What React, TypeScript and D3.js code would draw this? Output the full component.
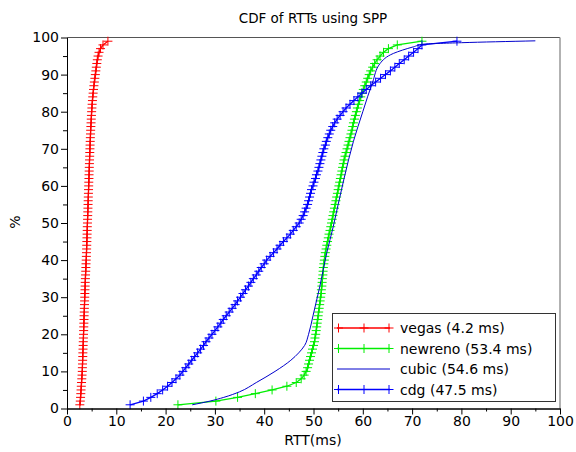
import React, { useRef, useEffect } from "react";
import * as d3 from "d3";

// percentiles 1..99 for the marker series
const PCT = [
  1, 2, 3, 4, 5, 6, 7, 8, 9, 10, 11, 12, 13, 14, 15, 16, 17, 18, 19, 20,
  21, 22, 23, 24, 25, 26, 27, 28, 29, 30, 31, 32, 33, 34, 35, 36, 37, 38, 39, 40,
  41, 42, 43, 44, 45, 46, 47, 48, 49, 50, 51, 52, 53, 54, 55, 56, 57, 58, 59, 60,
  61, 62, 63, 64, 65, 66, 67, 68, 69, 70, 71, 72, 73, 74, 75, 76, 77, 78, 79, 80,
  81, 82, 83, 84, 85, 86, 87, 88, 89, 90, 91, 92, 93, 94, 95, 96, 97, 98, 99,
];

const vegas = [
  2.6, 2.7, 2.75, 2.8, 2.85, 2.9, 2.95, 3.0, 3.05, 3.1,
  3.12, 3.15, 3.17, 3.2, 3.22, 3.25, 3.28, 3.3, 3.33, 3.35,
  3.38, 3.4, 3.42, 3.45, 3.47, 3.5, 3.52, 3.55, 3.57, 3.6,
  3.62, 3.65, 3.68, 3.7, 3.73, 3.76, 3.8, 3.83, 3.86, 3.9,
  3.93, 3.95, 3.98, 4.0, 4.03, 4.05, 4.08, 4.1, 4.12, 4.15,
  4.17, 4.2, 4.22, 4.25, 4.27, 4.3, 4.32, 4.35, 4.37, 4.4,
  4.42, 4.45, 4.47, 4.5, 4.52, 4.55, 4.57, 4.6, 4.62, 4.65,
  4.68, 4.71, 4.74, 4.77, 4.8, 4.84, 4.88, 4.92, 4.96, 5.0,
  5.05, 5.1, 5.16, 5.22, 5.3, 5.38, 5.46, 5.55, 5.65, 5.75,
  5.85, 5.95, 6.05, 6.15, 6.3, 6.5, 6.8, 7.3, 8.3,
];

const newreno = [
  22.5, 30.2, 34.6, 38.2, 41.6, 44.6, 46.5, 47.5, 48.1, 48.5,
  48.8, 49.0, 49.2, 49.4, 49.6, 49.8, 50.0, 50.2, 50.3, 50.45,
  50.55, 50.65, 50.75, 50.85, 50.95, 51.05, 51.15, 51.25, 51.35, 51.45,
  51.55, 51.6, 51.7, 51.75, 51.8, 51.9, 51.95, 52.0, 52.1, 52.2,
  52.3, 52.4, 52.55, 52.7, 52.85, 53.0, 53.15, 53.35, 53.5, 53.65,
  53.8, 53.95, 54.1, 54.25, 54.4, 54.55, 54.7, 54.85, 55.0, 55.15,
  55.3, 55.45, 55.6, 55.75, 55.9, 56.05, 56.2, 56.4, 56.6, 56.8,
  57.0, 57.2, 57.4, 57.6, 57.8, 57.95, 58.1, 58.3, 58.5, 58.7,
  58.9, 59.1, 59.35, 59.6, 59.85, 60.1, 60.4, 60.7, 61.0, 61.3,
  61.6, 62.0, 62.4, 62.9, 63.5, 64.2, 65.2, 67.0, 72.0,
];

const cdg = [
  12.8, 15.5, 17.0, 18.3, 19.4, 20.4, 21.3, 22.1, 22.9, 23.5,
  24.1, 24.7, 25.3, 25.9, 26.5, 27.1, 27.7, 28.2, 28.8, 29.4,
  30.0, 30.6, 31.2, 31.7, 32.3, 32.9, 33.5, 34.1, 34.6, 35.2,
  35.7, 36.2, 36.8, 37.3, 37.8, 38.4, 38.9, 39.4, 40.0, 40.5,
  41.2, 41.9, 42.6, 43.2, 43.9, 44.6, 45.3, 45.9, 46.5, 47.1,
  47.5, 47.9, 48.2, 48.5, 48.8, 49.0, 49.2, 49.4, 49.6, 49.9,
  50.1, 50.4, 50.6, 50.9, 51.1, 51.3, 51.5, 51.7, 51.9, 52.1,
  52.4, 52.6, 52.9, 53.2, 53.5, 53.9, 54.3, 54.8, 55.4, 56.0,
  56.6, 57.4, 58.2, 59.0, 59.8, 60.7, 61.6, 62.6, 63.6, 64.6,
  65.6, 66.5, 67.4, 68.4, 69.3, 70.3, 71.2, 72.0, 79.1,
];

// cubic has no markers: smooth line through these (percentile, rtt) points
const cubicPct = [1, 2, 3, 4.5, 7, 10, 13, 15, 17, 20, 25, 33, 42, 49, 55, 62, 72, 80, 88, 93, 95.7, 97.5, 98.2, 98.6, 99.1];
const cubicRtt = [25.4, 29, 31.8, 35, 38.4, 42.2, 45.4, 47.0, 48.2, 49.0, 49.9, 51.3, 52.7, 54.0, 55.0, 56.2, 58.1, 60.0, 62.0, 63.5, 66.2, 70.3, 72.3, 80, 95];

const seriesNames = ["vegas (4.2 ms)", "newreno (53.4 ms)", "cubic (54.6 ms)", "cdg (47.5 ms)"];
const seriesColors = ["#ff0000", "#00ee00", "#0000cc", "#0000ff"];

const W = 576, H = 452;
const M = { left: 67, right: 560, top: 37.5, bottom: 408.5 };
const FONT = "'DejaVu Sans', sans-serif";

const App = () => {
  const xAxisRef = useRef(null);
  const yAxisRef = useRef(null);

  const x = d3.scaleLinear().domain([0, 100]).range([M.left, M.right]);
  const y = d3.scaleLinear().domain([0, 100]).range([M.bottom, M.top]);

  useEffect(() => {
    const major = d3.range(0, 101, 10);
    const minor = d3.range(5, 100, 10);

    const gx = d3.select(xAxisRef.current);
    gx.selectAll("*").remove();
    gx.append("g").call(d3.axisBottom(x).tickValues(major).tickSize(6).tickSizeOuter(0));
    gx.append("g").call(d3.axisBottom(x).tickValues(minor).tickSize(3).tickFormat(() => "").tickSizeOuter(0));
    gx.selectAll("text").attr("font-size", 14).attr("font-family", FONT).attr("y", 8).attr("fill", "#000");
    gx.selectAll(".domain").attr("stroke", "#000");

    const gy = d3.select(yAxisRef.current);
    gy.selectAll("*").remove();
    gy.append("g").call(d3.axisLeft(y).tickValues(major).tickSize(6).tickSizeOuter(0));
    gy.append("g").call(d3.axisLeft(y).tickValues(minor).tickSize(4).tickFormat(() => "").tickSizeOuter(0));
    gy.selectAll("text").attr("font-size", 14).attr("font-family", FONT).attr("x", -8).attr("fill", "#000");
    gy.selectAll(".domain").attr("stroke", "#000");
  }, []);

  const lineXY = d3.line<number>().x((d, i) => x(d)).y((d, i) => y(PCT[i]));
  const cubicLine = d3
    .line<number>()
    .x((d) => x(d))
    .y((d, i) => y(cubicPct[i]))
    .curve(d3.curveMonotoneY);

  const plus = "M-4.5,0H4.5M0,-4.5V4.5";
  const markerSeries = [
    { data: vegas, color: seriesColors[0] },
    { data: newreno, color: seriesColors[1] },
    { data: cdg, color: seriesColors[3] },
  ];

  const legendRows = [328, 348.5, 369, 389.5];

  return (
    <svg width={W} height={H} style={{ position: "absolute", left: 0, top: 0, background: "#fff" }}>
      <rect x={0} y={0} width={W} height={H} fill="#fff" />
      {/* frame top/right */}
      <line x1={M.left} x2={M.right} y1={M.top} y2={M.top} stroke="#555" strokeWidth={1} />
      <line x1={M.right} x2={M.right} y1={M.top} y2={M.bottom} stroke="#999" strokeWidth={1.5} />

      {markerSeries.map((s, k) => (
        <g key={k}>
          <path d={lineXY(s.data) as string} fill="none" stroke={s.color} strokeWidth={1.3} />
          {s.data.map((v, i) => (
            <path key={i} d={plus} transform={`translate(${x(v)},${y(PCT[i])})`} stroke={s.color} strokeWidth={1} fill="none" />
          ))}
        </g>
      ))}
      <path d={cubicLine(cubicRtt) as string} fill="none" stroke={seriesColors[2]} strokeWidth={1} />

      <g ref={xAxisRef} transform={`translate(0,${M.bottom})`} />
      <g ref={yAxisRef} transform={`translate(${M.left},0)`} />

      {/* legend */}
      <rect x={332.5} y={313.5} width={223} height={88} fill="#fff" stroke="#333" strokeWidth={1} />
      {seriesNames.map((name, i) => (
        <g key={name} transform={`translate(0,${legendRows[i]})`}>
          <line x1={337} x2={390} y1={0} y2={0} stroke={seriesColors[i]} strokeWidth={i === 2 ? 1 : 1.3} />
          {i !== 2 &&
            [338.5, 364, 389].map((mx) => (
              <path key={mx} d={plus} transform={`translate(${mx},0)`} stroke={seriesColors[i]} strokeWidth={1} fill="none" />
            ))}
          <text x={400} y={0} dy="0.36em" fontSize={14} fontFamily={FONT} fill="#000">
            {name}
          </text>
        </g>
      ))}

      <text x={313} y={23} textAnchor="middle" fontSize={13.5} fontFamily={FONT} fill="#000">
        CDF of RTTs using SPP
      </text>
      <text x={313} y={445} textAnchor="middle" fontSize={14} fontFamily={FONT} fill="#000">
        RTT(ms)
      </text>
      <text transform="translate(20,222) rotate(-90)" textAnchor="middle" fontSize={14} fontFamily={FONT} fill="#000">
        %
      </text>
    </svg>
  );
};

export default App;
